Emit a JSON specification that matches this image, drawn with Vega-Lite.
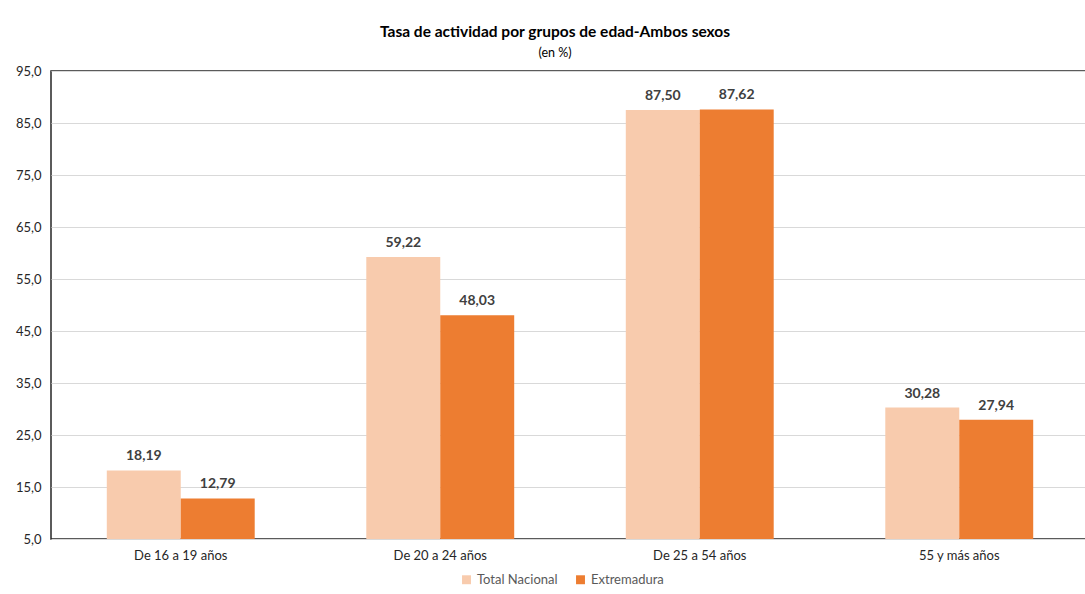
{
  "$schema": "https://vega.github.io/schema/vega-lite/v6.json",
  "width": 1038,
  "height": 468,
  "autosize": {"type": "none"},
  "padding": {"left": 51, "top": 71, "right": 0, "bottom": 55},
  "background": "white",
  "title": {
    "text": "Tasa de actividad por grupos de edad-Ambos sexos",
    "subtitle": "(en %)",
    "font": "Lato",
    "fontSize": 15.5,
    "fontWeight": "bold",
    "color": "#000000",
    "subtitleFont": "Lato",
    "subtitleFontSize": 12.5,
    "subtitleColor": "#000000",
    "subtitlePadding": 6,
    "anchor": "middle",
    "dx": -15,
    "offset": 6
  },
  "config": {
    "locale": {
      "number": {"decimal": ",", "thousands": ".", "grouping": [3], "currency": ["", " €"]}
    },
    "view": {"stroke": "#262626", "strokeWidth": 1.5},
    "font": "Lato"
  },
  "data": {
    "values": [
      {"grupo": "De 16 a 19 años", "serie": "Total Nacional", "valor": 18.19},
      {"grupo": "De 16 a 19 años", "serie": "Extremadura", "valor": 12.79},
      {"grupo": "De 20 a 24 años", "serie": "Total Nacional", "valor": 59.22},
      {"grupo": "De 20 a 24 años", "serie": "Extremadura", "valor": 48.03},
      {"grupo": "De 25 a 54 años", "serie": "Total Nacional", "valor": 87.50},
      {"grupo": "De 25 a 54 años", "serie": "Extremadura", "valor": 87.62},
      {"grupo": "55 y más años", "serie": "Total Nacional", "valor": 30.28},
      {"grupo": "55 y más años", "serie": "Extremadura", "valor": 27.94}
    ]
  },
  "encoding": {
    "x": {
      "field": "grupo",
      "type": "nominal",
      "sort": ["De 16 a 19 años", "De 20 a 24 años", "De 25 a 54 años", "55 y más años"],
      "scale": {"paddingInner": 0.43, "paddingOuter": 0.215},
      "axis": {
        "title": null,
        "labelAngle": 0,
        "ticks": false,
        "domain": false,
        "labelFontSize": 13,
        "labelColor": "#262626",
        "labelPadding": 10,
        "labelFont": "Lato"
      }
    },
    "xOffset": {
      "field": "serie",
      "type": "nominal",
      "sort": ["Total Nacional", "Extremadura"],
      "scale": {"paddingInner": 0, "paddingOuter": 0}
    },
    "y": {
      "field": "valor",
      "type": "quantitative",
      "scale": {"domain": [5, 95], "nice": false, "zero": false},
      "axis": {
        "title": null,
        "values": [5, 15, 25, 35, 45, 55, 65, 75, 85, 95],
        "format": ".1f",
        "ticks": false,
        "domain": false,
        "gridColor": "#d9d9d9",
        "gridWidth": 1,
        "labelFontSize": 13,
        "labelColor": "#262626",
        "labelPadding": 10
      }
    }
  },
  "layer": [
    {
      "mark": {"type": "bar"},
      "encoding": {
        "y2": {"datum": 5},
        "color": {
          "field": "serie",
          "type": "nominal",
          "sort": ["Total Nacional", "Extremadura"],
          "scale": {"domain": ["Total Nacional", "Extremadura"], "range": ["#F8CBAD", "#ED7D31"]},
          "legend": {
            "title": null,
            "orient": "none",
            "legendX": 409,
            "legendY": 502,
            "direction": "horizontal",
            "symbolType": "square",
            "symbolSize": 80,
            "symbolStrokeWidth": 0,
            "labelFontSize": 13,
            "labelColor": "#595959",
            "columnPadding": 16
          }
        }
      }
    },
    {
      "mark": {
        "type": "text",
        "baseline": "bottom",
        "dy": -7,
        "fontSize": 14,
        "fontWeight": "bold",
        "color": "#404040"
      },
      "encoding": {
        "text": {"field": "valor", "type": "quantitative", "format": ".2f"}
      }
    }
  ]
}
